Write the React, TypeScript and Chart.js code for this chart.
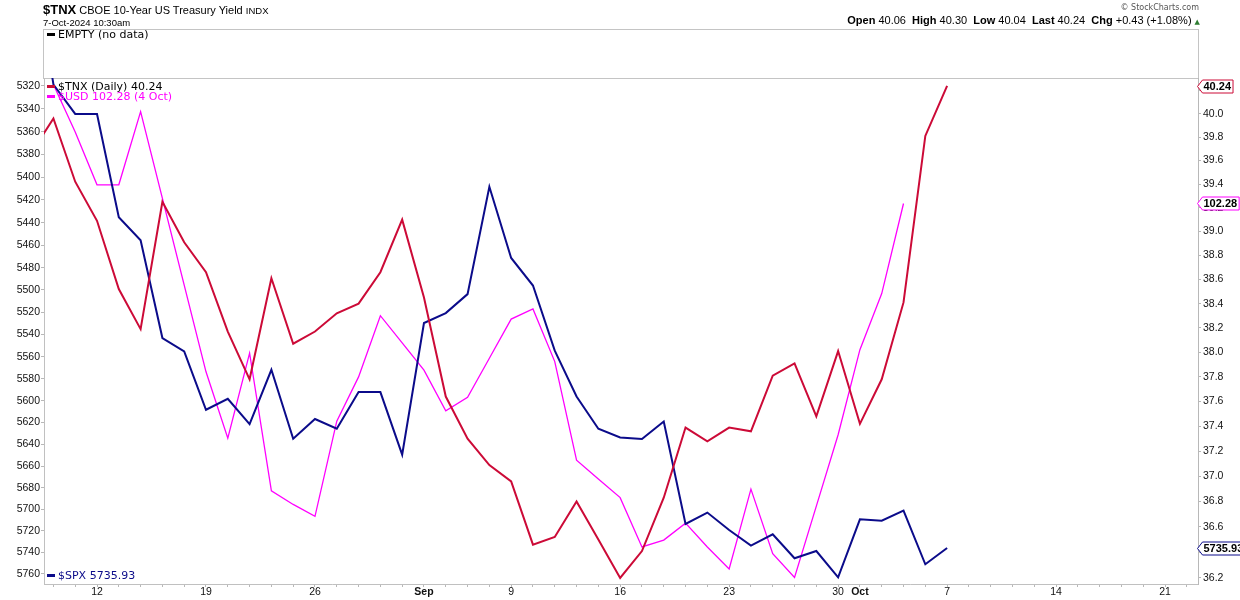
import React, { useEffect, useRef } from "react";
import { Chart, registerables } from "chart.js";

Chart.register(...registerables);

// Trading days shown (index = x position on the time axis)
const dates = [
  "2024-08-07", "2024-08-08", "2024-08-09", "2024-08-12", "2024-08-13", "2024-08-14", "2024-08-15", "2024-08-16",
  "2024-08-19", "2024-08-20", "2024-08-21", "2024-08-22", "2024-08-23", "2024-08-26", "2024-08-27", "2024-08-28",
  "2024-08-29", "2024-08-30", "2024-09-03", "2024-09-04", "2024-09-05", "2024-09-06", "2024-09-09", "2024-09-10",
  "2024-09-11", "2024-09-12", "2024-09-13", "2024-09-16", "2024-09-17", "2024-09-18", "2024-09-19", "2024-09-20",
  "2024-09-23", "2024-09-24", "2024-09-25", "2024-09-26", "2024-09-27", "2024-09-30", "2024-10-01", "2024-10-02",
  "2024-10-03", "2024-10-04", "2024-10-07",
];

// $TNX (right axis, log)
const tnx = [
  39.67, 39.96, 39.42, 39.09, 38.52, 38.19, 39.25, 38.91, 38.66, 38.17, 37.78, 38.61, 38.07, 38.17, 38.32, 38.40,
  38.66, 39.10, 38.45, 37.64, 37.30, 37.09, 36.96, 36.46, 36.52, 36.80, 36.50, 36.20, 36.41, 36.83, 37.39, 37.28,
  37.39, 37.36, 37.81, 37.91, 37.48, 38.01, 37.42, 37.78, 38.41, 39.81, 40.24,
];

// $USD overlay (own hidden scale)
const usd = [
  null, 102.98, 102.70, 102.39, 102.39, 102.82, 102.31, 101.80, 101.29, 100.90, 101.40, 100.59, 100.51, 100.44,
  101.00, 101.26, 101.62, 101.46, 101.30, 101.06, 101.14, 101.37, 101.60, 101.66, 101.35, 100.77, 100.66, 100.55,
  100.26, 100.30, 100.40, 100.26, 100.13, 100.60, 100.22, 100.08, 100.50, 100.92, 101.42, 101.75, 102.28,
];

// $SPX (left axis, log, inverted)
const spx = [
  5200, 5319, 5344.6, 5344.6, 5435.3, 5455.7, 5543.2, 5555.2, 5608.3, 5598.3, 5621.4, 5571.9, 5634.8, 5616.8,
  5625.7, 5592.2, 5592.2, 5649.5, 5529.7, 5520.7, 5503.7, 5408.3, 5471.4, 5496.0, 5554.6, 5596.2, 5625.7, 5633.6,
  5635.1, 5619.0, 5713.6, 5703.0, 5719.2, 5733.7, 5723.2, 5745.6, 5738.8, 5763.5, 5709.3, 5710.5, 5701.2, 5751.2,
  5735.93,
];

// Axis ticks
const xTickIndex = [3, 8, 13, 18, 22, 27, 32, 37, 38, 42, 47, 52];
const xTickLabels = ["12", "19", "26", "Sep", "9", "16", "23", "30", "Oct", "7", "14", "21"];
const boldXLabels = ["Sep", "Oct"];
const spxTicks = [
  5320, 5340, 5360, 5380, 5400, 5420, 5440, 5460, 5480, 5500, 5520, 5540, 5560, 5580, 5600, 5620, 5640, 5660,
  5680, 5700, 5720, 5740, 5760,
];
const tnxTicks = [
  36.2, 36.4, 36.6, 36.8, 37.0, 37.2, 37.4, 37.6, 37.8, 38.0, 38.2, 38.4, 38.6, 38.8, 39.0, 39.2, 39.4, 39.6,
  39.8, 40.0, 40.2,
];

// Axis ranges
const xMin = 0.568;
const xMax = 53.51;
const spxMin = 5313.4;
const spxMax = 5769.7;
const tnxMin = 36.153;
const tnxMax = 40.309;
const usdMin = 100.042;
const usdMax = 103.018;

const RED = "#cc0a37";
const MAGENTA = "#ff00ff";
const NAVY = "#0b0b8a";
const AXIS_FONT = '"Liberation Sans", Arial, sans-serif';
const LEGEND_FONT = '"DejaVu Sans", Verdana, sans-serif';

const framePlugin = {
  id: "frame",
  beforeDraw(chart: any) {
    const { ctx, chartArea: a } = chart;
    ctx.save();
    ctx.fillStyle = "#ffffff";
    ctx.fillRect(0, 0, chart.width, chart.height);
    ctx.strokeStyle = "#c4c4c4";
    ctx.lineWidth = 1;
    // empty upper panel
    ctx.strokeRect(a.left - 0.5, 29.5, a.right - a.left + 1, a.top - 29);
    // top border of price panel
    ctx.beginPath();
    ctx.moveTo(a.left, a.top + 0.5);
    ctx.lineTo(a.right, a.top + 0.5);
    ctx.stroke();
    ctx.restore();
  },
  afterDraw(chart: any) {
    const { ctx, chartArea: a } = chart;
    const flags = [
      { scale: "yTnx", value: tnx[tnx.length - 1] as number, color: RED },
      { scale: "yUsd", value: usd[usd.length - 1] as number, color: MAGENTA },
      { scale: "ySpx", value: spx[spx.length - 1] as number, color: NAVY },
    ];
    ctx.save();
    ctx.font = `bold 11px ${AXIS_FONT}`;
    ctx.textBaseline = "middle";
    ctx.textAlign = "left";
    for (const f of flags) {
      const y = Math.round(chart.scales[f.scale].getPixelForValue(f.value)) + 0.5;
      const text = f.value.toFixed(2);
      const w = ctx.measureText(text).width;
      const x0 = a.right - 0.5;
      const x1 = x0 + 5;
      const x2 = x1 + w + 3;
      ctx.beginPath();
      ctx.moveTo(x0, y);
      ctx.lineTo(x1, y - 6.5);
      ctx.lineTo(x2, y - 6.5);
      ctx.lineTo(x2, y + 6.5);
      ctx.lineTo(x1, y + 6.5);
      ctx.closePath();
      ctx.fillStyle = "#ffffff";
      ctx.fill();
      ctx.strokeStyle = f.color;
      ctx.lineWidth = 1;
      ctx.stroke();
      ctx.fillStyle = "#000000";
      ctx.fillText(text, x1 + 1, y + 0.5);
    }
    ctx.restore();
  },
};

function Dash({ color }: { color: string }) {
  return (
    <span
      style={{
        display: "inline-block",
        width: 8,
        height: 3,
        background: color,
        verticalAlign: "middle",
        marginRight: 3,
        position: "relative",
        top: -1,
      }}
    />
  );
}

export default function App() {
  const ref = useRef<HTMLCanvasElement>(null);

  useEffect(() => {
    const canvas = ref.current;
    if (!canvas) return;
    const dayTicks: number[] = [];
    for (let d = Math.ceil(xMin); d <= Math.floor(xMax); d++) dayTicks.push(d);

    const chart = new Chart(canvas, {
      type: "line",
      data: {
        datasets: [
          {
            label: "$TNX",
            data: dates.map((d, i) => ({ x: i, y: tnx[i] })),
            yAxisID: "yTnx",
            borderColor: RED,
            borderWidth: 2,
            pointRadius: 0,
            tension: 0,
          },
          {
            label: "$SPX",
            data: dates.map((d, i) => ({ x: i, y: spx[i] })),
            yAxisID: "ySpx",
            borderColor: NAVY,
            borderWidth: 2,
            pointRadius: 0,
            tension: 0,
          },
          {
            label: "$USD",
            data: usd.map((v, i) => ({ x: i, y: v })),
            yAxisID: "yUsd",
            borderColor: MAGENTA,
            borderWidth: 1.3,
            pointRadius: 0,
            tension: 0,
          },
        ],
      },
      options: {
        responsive: false,
        animation: false,
        events: [],
        layout: { padding: { top: 78, left: 0, right: 0, bottom: 0 } },
        plugins: { legend: { display: false }, tooltip: { enabled: false } },
        scales: {
          x: {
            type: "linear",
            position: "bottom",
            min: xMin,
            max: xMax,
            afterBuildTicks: (s: any) => {
              s.ticks = dayTicks.map((v) => ({ value: v }));
            },
            afterFit: (s: any) => {
              s.height = 16;
            },
            ticks: {
              autoSkip: false,
              maxRotation: 0,
              padding: -1,
              color: "#111",
              callback: (v: any) => {
                const k = xTickIndex.indexOf(Number(v));
                return k >= 0 ? xTickLabels[k] : "";
              },
              font: (c: any) => {
                const k = c.tick ? xTickIndex.indexOf(c.tick.value) : -1;
                const bold = k >= 0 && boldXLabels.includes(xTickLabels[k]);
                return { family: AXIS_FONT, size: 10.5, weight: bold ? "bold" : "normal" };
              },
            },
            grid: { drawOnChartArea: false, drawTicks: true, tickLength: 3, color: "#b8b8b8" },
            border: { display: true, color: "#c0c0c0" },
          },
          ySpx: {
            type: "logarithmic",
            position: "left",
            reverse: true,
            min: spxMin,
            max: spxMax,
            afterBuildTicks: (s: any) => {
              s.ticks = spxTicks.map((v) => ({ value: v }));
            },
            afterFit: (s: any) => {
              s.width = 44;
            },
            ticks: {
              autoSkip: false,
              padding: 1,
              color: "#111",
              font: { family: AXIS_FONT, size: 10.5 },
              callback: (v: any) => String(Math.round(Number(v))),
            },
            grid: { drawOnChartArea: false, drawTicks: true, tickLength: 3, color: "#b8b8b8" },
            border: { display: true, color: "#c0c0c0" },
          },
          yTnx: {
            type: "logarithmic",
            position: "right",
            min: tnxMin,
            max: tnxMax,
            afterBuildTicks: (s: any) => {
              s.ticks = tnxTicks.map((v) => ({ value: v }));
            },
            afterFit: (s: any) => {
              s.width = 42;
            },
            ticks: {
              autoSkip: false,
              padding: 2,
              color: "#111",
              font: { family: AXIS_FONT, size: 10.5 },
              callback: (v: any) => Number(v).toFixed(1),
            },
            grid: { drawOnChartArea: false, drawTicks: true, tickLength: 3, color: "#b8b8b8" },
            border: { display: true, color: "#b8b8b8", dash: [2, 2] },
          },
          yUsd: {
            type: "linear",
            display: false,
            min: usdMin,
            max: usdMax,
          },
        },
      } as any,
      plugins: [framePlugin],
    });
    return () => chart.destroy();
  }, []);

  const legendStyle: React.CSSProperties = {
    position: "absolute",
    fontFamily: LEGEND_FONT,
    fontSize: 11,
    lineHeight: "12px",
    whiteSpace: "nowrap",
  };

  return (
    <div
      style={{
        position: "fixed",
        left: 0,
        top: 0,
        width: 1240,
        height: 600,
        background: "#fff",
        overflow: "hidden",
        fontFamily: AXIS_FONT,
        color: "#000",
      }}
    >
      <canvas ref={ref} width={1240} height={600} style={{ position: "absolute", left: 0, top: 0 }} />

      <div style={{ position: "absolute", left: 43, top: 1, lineHeight: "15px", whiteSpace: "nowrap" }}>
        <span style={{ fontWeight: "bold", fontSize: 13 }}>$TNX</span>
        <span style={{ fontSize: 11 }}> CBOE 10-Year US Treasury Yield </span>
        <span style={{ fontSize: 9.5 }}>INDX</span>
      </div>
      <div style={{ position: "absolute", left: 43, top: 17, fontSize: 9.5, lineHeight: "12px", whiteSpace: "nowrap" }}>
        7-Oct-2024 10:30am
      </div>

      <div
        style={{
          position: "absolute",
          right: 41,
          top: 3,
          fontFamily: LEGEND_FONT,
          fontSize: 8,
          lineHeight: "10px",
          color: "#555",
          whiteSpace: "nowrap",
        }}
      >
        © StockCharts.com
      </div>
      <div
        style={{
          position: "absolute",
          right: 40,
          top: 14,
          fontSize: 11,
          lineHeight: "12px",
          whiteSpace: "nowrap",
        }}
      >
        <b>Open</b> 40.06&nbsp; <b>High</b> 40.30&nbsp; <b>Low</b> 40.04&nbsp; <b>Last</b> 40.24&nbsp; <b>Chg</b> +0.43
        (+1.08%){" "}
        <span style={{ fontFamily: LEGEND_FONT, fontSize: 7, color: "#2e7d32" }}>▲</span>
      </div>

      <div style={{ ...legendStyle, left: 47, top: 29 }}>
        <Dash color="#000" />
        EMPTY (no data)
      </div>
      <div style={{ ...legendStyle, left: 47, top: 81 }}>
        <Dash color={RED} />
        $TNX (Daily) 40.24
      </div>
      <div style={{ ...legendStyle, left: 47, top: 91, color: MAGENTA }}>
        <Dash color={MAGENTA} />
        $USD 102.28 (4 Oct)
      </div>
      <div style={{ ...legendStyle, left: 47, top: 570, color: NAVY }}>
        <Dash color={NAVY} />
        $SPX 5735.93
      </div>
    </div>
  );
}
